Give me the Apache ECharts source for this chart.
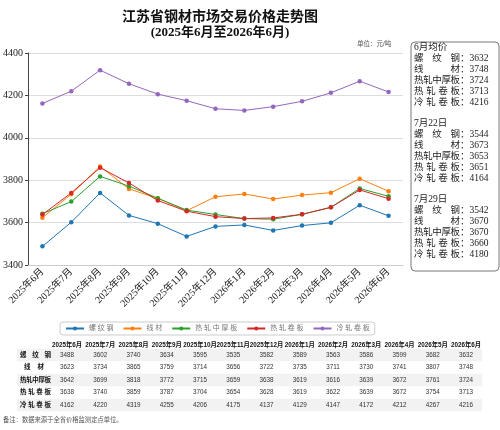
<!DOCTYPE html>
<html lang="zh">
<head>
    <meta charset="UTF-8">
    <title>江苏省钢材市场交易价格走势图</title>
    <script src="https://cdn.jsdelivr.net/npm/echarts@6/dist/echarts.min.js"></script>
    <style>
        html, body { margin: 0; padding: 0; background: #fff; }
        #chart { width: 500px; height: 430px; }
    </style>
</head>
<body>
<div id="chart"></div>
<script>
    // 数据
    const months = ['2025年6月', '2025年7月', '2025年8月', '2025年9月', '2025年10月', '2025年11月', '2025年12月',
        '2026年1月', '2026年2月', '2026年3月', '2026年4月', '2026年5月', '2026年6月'];
    const names = ['螺纹钢', '线材', '热轧中厚板', '热轧卷板', '冷轧卷板'];
    const rebar = [3488, 3602, 3740, 3634, 3595, 3535, 3582, 3589, 3563, 3586, 3599, 3682, 3632];
    const wire = [3623, 3734, 3865, 3759, 3714, 3656, 3722, 3735, 3711, 3730, 3741, 3807, 3748];
    const plate = [3642, 3699, 3818, 3772, 3715, 3659, 3638, 3619, 3616, 3639, 3672, 3761, 3724];
    const hotCoil = [3638, 3740, 3859, 3787, 3704, 3654, 3628, 3619, 3622, 3639, 3672, 3754, 3713];
    const coldCoil = [4162, 4220, 4319, 4255, 4206, 4175, 4137, 4129, 4147, 4172, 4212, 4267, 4216];
    const yTicks = [3400, 3600, 3800, 4000, 4200, 4400];
    const summaryTitles = ['6月均价', '7月22日', '7月29日'];
    const summaryValues = [
        [3632, 3748, 3724, 3713, 4216],
        [3544, 3673, 3653, 3651, 4164],
        [3542, 3670, 3670, 3660, 4180]
    ];

    const colors = ['#1f77b4', '#ff7f0e', '#2ca02c', '#d62728', '#9467bd'];
    const seriesData = [rebar, wire, plate, hotCoil, coldCoil];
    const serif = "'Liberation Serif', 'DejaVu Serif', 'Noto Sans CJK SC', serif";
    const sans = "'Liberation Sans', Arial, 'Noto Sans CJK SC', sans-serif";

    let graphics = [];

    // 单位
    graphics.push({
        type: 'text', left: 357, top: 41,
        style: {text: '单位：元/吨', font: '6.5px ' + sans, fill: '#555'}
    });

    // 右侧说明框
    graphics.push({
        type: 'rect', shape: {x: 411, y: 42, width: 88, height: 229, r: 4},
        style: {fill: '#fff', stroke: '#555', lineWidth: 0.8}
    });
    let spread = function (name, x0, width, cy, size, font, color, weight) {
        let n = name.length;
        let step = n > 1 ? (width - size) / (n - 1) : 0;
        for (let i = 0; i < n; i++) {
            graphics.push({
                type: 'text', x: x0 + i * step, y: cy,
                style: {
                    text: name[i], fontSize: size, fontFamily: font, fill: color,
                    fontWeight: weight || 'normal', verticalAlign: 'middle'
                }
            });
        }
    };
    let lineY = 47;
    summaryTitles.forEach(function (title, g) {
        graphics.push({
            type: 'text', x: 414, y: lineY,
            style: {text: title, fontSize: 9.5, fontFamily: serif, fill: '#222', verticalAlign: 'middle'}
        });
        lineY += 11;
        names.forEach(function (nm, k) {
            spread(nm, 414, 46, lineY, 9.5, serif, '#222');
            graphics.push({
                type: 'text', x: 460, y: lineY,
                style: {
                    text: '：' + summaryValues[g][k], fontSize: 9.5, fontFamily: serif,
                    fill: '#222', verticalAlign: 'middle'
                }
            });
            lineY += 11;
        });
        lineY += 10;
    });

    // 数据表
    const colX0 = 67, colStep = 33.25;
    const rowY0 = 355, rowStep = 12.5;
    months.forEach(function (m, i) {
        graphics.push({
            type: 'text', x: colX0 + i * colStep, y: 345,
            style: {
                text: m, fontSize: 6.3, fontFamily: sans, fontWeight: 'bold', fill: '#111',
                align: 'center', verticalAlign: 'middle'
            }
        });
    });
    names.forEach(function (nm, r) {
        let cy = rowY0 + r * rowStep;
        if (r % 2 === 0) {
            graphics.push({
                type: 'rect', shape: {x: 17, y: cy - rowStep / 2, width: 465, height: rowStep},
                style: {fill: '#f2f2f2'}, z: -1
            });
        }
        spread(nm, nm.length > 2 ? 20 : 24, nm.length > 2 ? 31 : 20, cy, 6.5, sans, '#111', 'bold');
        seriesData[r].forEach(function (v, i) {
            graphics.push({
                type: 'text', x: colX0 + i * colStep, y: cy,
                style: {
                    text: String(v), fontSize: 6.3, fontFamily: sans, fill: '#333',
                    align: 'center', verticalAlign: 'middle'
                }
            });
        });
    });

    // 备注
    graphics.push({
        type: 'text', x: 3, y: 420,
        style: {
            text: '备注：数据来源于全省价格监测定点单位。', fontSize: 6.3, fontFamily: sans,
            fill: '#555', verticalAlign: 'middle'
        }
    });

    let chart = echarts.init(document.getElementById('chart'));
    let option = {
        backgroundColor: '#fff',
        color: colors,
        animation: false,
        title: {
            text: '江苏省钢材市场交易价格走势图',
            subtext: '(2025年6月至2026年6月)',
            left: 215,
            textAlign: 'center',
            top: 5,
            itemGap: 2,
            textStyle: {fontFamily: serif, fontSize: 14, fontWeight: 'bold', color: '#111'},
            subtextStyle: {fontFamily: serif, fontSize: 13, fontWeight: 'bold', color: '#111'}
        },
        legend: {
            data: names,
            left: 60,
            top: 322,
            width: 420,
            padding: [3, 5, 3, 5],
            borderColor: '#ccc',
            borderWidth: 1,
            borderRadius: 3,
            itemWidth: 18,
            itemHeight: 5,
            itemGap: 9,
            formatter: function (name) {
                return name.split('').join(' ');
            },
            textStyle: {fontFamily: serif, fontSize: 7, color: '#777'}
        },
        grid: {left: 28, right: 97, top: 53, bottom: 165, containLabel: false},
        xAxis: {
            type: 'category',
            data: months,
            boundaryGap: true,
            axisLine: {show: true, lineStyle: {color: '#ccc'}},
            axisTick: {show: false},
            axisLabel: {
                rotate: 45, interval: 0, margin: 5,
                fontFamily: serif, fontSize: 10, color: '#222'
            }
        },
        yAxis: {
            type: 'value',
            min: yTicks[0],
            max: yTicks[yTicks.length - 1],
            interval: 200,
            axisLine: {show: true, lineStyle: {color: '#444'}},
            axisTick: {show: true, length: 3, lineStyle: {color: '#444'}},
            axisLabel: {
                fontFamily: serif, fontSize: 10, color: '#222', margin: 5,
                formatter: function (v) {
                    return String(v);
                }
            },
            splitLine: {show: true, lineStyle: {color: '#ddd'}}
        },
        series: names.map(function (nm, i) {
            return {
                name: nm,
                type: 'line',
                data: seriesData[i],
                symbol: 'circle',
                symbolSize: 4.5,
                lineStyle: {width: 1},
                itemStyle: {color: colors[i]}
            };
        }),
        graphic: graphics
    };
    chart.setOption(option);
</script>
</body>
</html>
